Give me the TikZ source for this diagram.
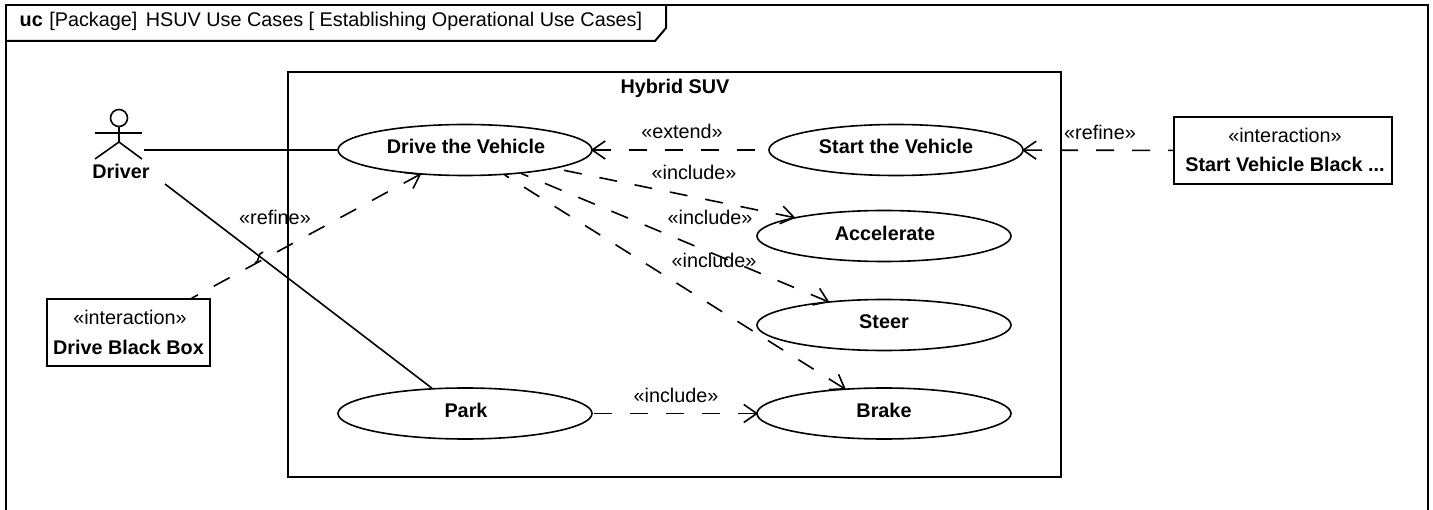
\documentclass[tikz,border=0pt]{standalone}
\usepackage{fontspec}
\setmainfont{Liberation Sans}
\usetikzlibrary{arrows.meta, shapes.geometric}
\tikzset{
    usecase/.style={draw, ellipse, line width=1.6pt, minimum width=254pt, minimum height=51pt, inner sep=0pt},
    interaction/.style={draw, rectangle, line width=1.6pt, align=center, inner sep=0pt},
    dep/.style={<-, line width=1.6pt, dash pattern=on 18pt off 18pt, shorten <=-2pt},
    assoc/.style={line width=1.6pt},
    lbl/.style={inner sep=0pt},
    boldlbl/.style={inner sep=0pt, font=\fontsize{19.8}{22}\selectfont\bfseries}
}
\begin{document}
\begin{tikzpicture}[x=1pt, y=1pt, node distance=2cm, >={Straight Barb[length=13pt, width=18pt]}, font=\fontsize{19.8}{22}\selectfont]
        \useasboundingbox (0,0) rectangle (1433,-510);
        % Frame
        \draw[line width=2pt] (5.5,-510) -- (5.5,-5.5) -- (1428,-5.5) -- (1428,-510);
        \draw[line width=2pt] (5.5,-41) -- (655,-41) -- (666,-28) -- (666,-5.5);
        \node[lbl, anchor=west] (frametitle) at (19.5,-21.5) {\textbf{uc}\kern1pt{} [Package]\kern3pt{} HSUV Use Cases [ Establishing Operational Use Cases]};
        % System box
        \node[draw, rectangle, line width=1.6pt, minimum width=773pt, minimum height=405pt, inner sep=0pt] (system) at (674.5,-274.5) {};
        \node[boldlbl] (systemtitle) at (675,-88) {Hybrid SUV};
        % Use cases
        \node[usecase] (drive) at (465,-150) {};
        \node[usecase, right of=drive, node distance=431pt] (start) {};
        \node[usecase, below of=drive, node distance=263.5pt] (park) {};
        \node[usecase, right of=park, node distance=419pt] (brake) {};
        \node[usecase, above of=brake, node distance=88.5pt] (steer) {};
        \node[usecase, above of=steer, node distance=89pt] (accel) {};
        \node[boldlbl] at (466,-146) {Drive the Vehicle};
        \node[boldlbl] at (896,-146) {Start the Vehicle};
        \node[boldlbl] at (885,-233) {Accelerate};
        \node[boldlbl] at (884,-322) {Steer};
        \node[boldlbl] at (884,-410) {Brake};
        \node[boldlbl] at (466,-410) {Park};
        % Interactions
        \node[interaction, minimum width=163pt, minimum height=67pt] (drivebox) at (128.5,-332.5) {};
        \node[interaction, minimum width=218pt, minimum height=67pt] (startbox) at (1283,-150.5) {};
        \node[lbl] at (130,-317) {«interaction»};
        \node[boldlbl] at (128.5,-347) {Drive Black Box};
        \node[lbl] at (1285,-135) {«interaction»};
        \node[boldlbl] at (1285,-164) {Start Vehicle Black ...};
        % Actor
        \node[draw, circle, line width=1.6pt, minimum size=17pt, inner sep=0pt] (head) at (119,-118) {};
        \coordinate (hip) at (119,-142);
        \coordinate (armL) at (95,-133);
        \coordinate (armR) at (142,-133);
        \coordinate (footL) at (95,-159);
        \coordinate (footR) at (142,-159);
        \coordinate (driverA) at (144,-150);
        \coordinate (driverB) at (165,-184);
        \draw[assoc] (head) -- (hip);
        \draw[assoc] (armL) -- (armR);
        \draw[assoc] (footL) -- (hip) -- (footR);
        \node[boldlbl] (driver) at (121,-171) {Driver};
        % Associations
        \draw[assoc] (driverA) -- (drive);
        \draw[assoc] (driverB) -- (park);
        % Dependencies
        \draw[dep] (drive) -- (start);
        \draw[dep] (accel) -- (drive);
        \draw[dep] (steer) -- (drive);
        \draw[dep] (brake) -- (drive);
        \draw[dep] (brake) -- (park);
        \draw[dep] (start) -- (startbox);
        \draw[dep] (drive) -- (drivebox);
        % Crossing
        \coordinate (jumpA) at (263,-252);
        \coordinate (jumpB) at (255,-263);
        \draw[assoc] (jumpA) .. controls (257,-253) and (260,-262) .. (jumpB);
        % Labels
        \node[lbl] at (682,-131) {«extend»};
        \node[lbl] at (694,-172.5) {«include»};
        \node[lbl] at (710,-217) {«include»};
        \node[lbl] at (714,-260) {«include»};
        \node[lbl] at (676,-395) {«include»};
        \node[lbl] at (275,-217) {«refine»};
        \node[lbl] at (1100,-132) {«refine»};
\end{tikzpicture}
\end{document}
